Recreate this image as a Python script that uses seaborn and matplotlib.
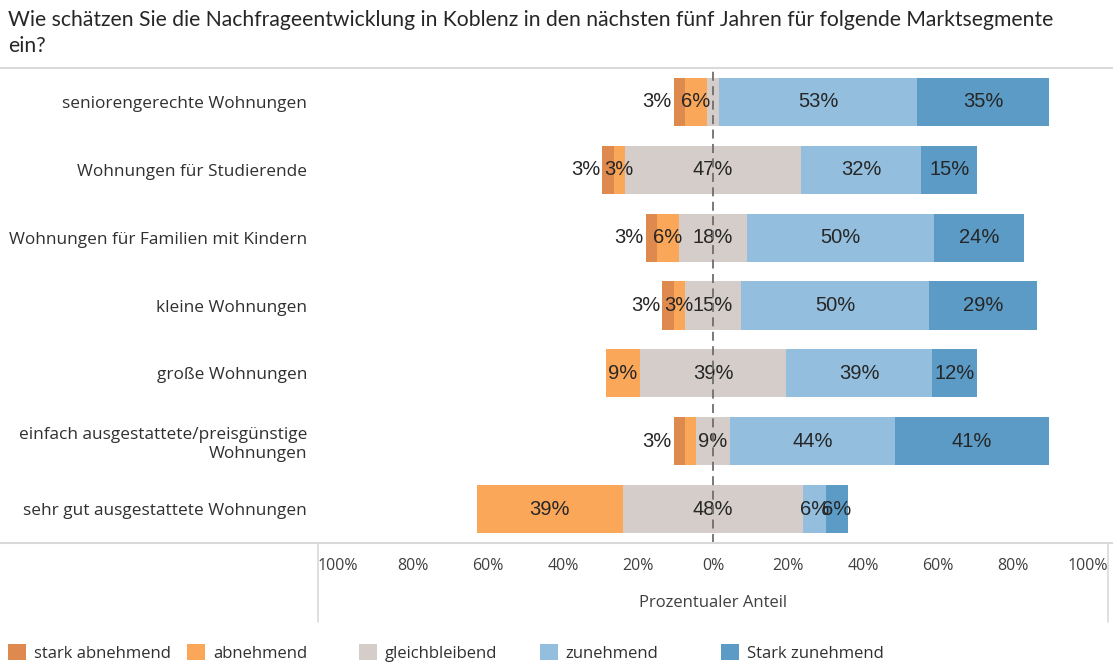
import seaborn as sns
import pandas as pd
import numpy as np
import matplotlib.pyplot as plt
from matplotlib.lines import Line2D
from matplotlib.patches import Patch

sns.set_theme(style="white")
plt.rcParams["font.family"] = ["Open Sans", "DejaVu Sans"]

categories = [
    "seniorengerechte Wohnungen",
    "Wohnungen für Studierende",
    "Wohnungen für Familien mit Kindern",
    "kleine Wohnungen",
    "große Wohnungen",
    "einfach ausgestattete/preisgünstige\nWohnungen",
    "sehr gut ausgestattete Wohnungen",
]
stark_abnehmend = [3, 3, 3, 3, 0, 3, 0]
abnehmend = [6, 3, 6, 3, 9, 3, 39]
gleichbleibend = [3, 47, 18, 15, 39, 9, 48]
zunehmend = [53, 32, 50, 50, 39, 44, 6]
stark_zunehmend = [35, 15, 24, 29, 12, 41, 6]

series_names = ["stark abnehmend", "abnehmend", "gleichbleibend", "zunehmend", "Stark zunehmend"]
colors = ["#DE8A4E", "#FBA75A", "#D4CDCA", "#93BEDD", "#5B9BC6"]
# which segment labels are shown in the original
show_label = [
    [1, 1, 0, 1, 1],
    [1, 1, 1, 1, 1],
    [1, 1, 1, 1, 1],
    [1, 1, 1, 1, 1],
    [0, 1, 1, 1, 1],
    [1, 0, 1, 1, 1],
    [0, 1, 1, 1, 1],
]

values = np.array([stark_abnehmend, abnehmend, gleichbleibend, zunehmend, stark_zunehmend], dtype=float).T
# diverging: negative side = stark abn + abn + half of gleichbleibend
starts = -(values[:, 0] + values[:, 1] + values[:, 2] / 2)
cum = np.cumsum(values, axis=1)
lefts = starts[:, None] + np.column_stack([np.zeros(len(starts)), cum[:, :-1]])

W, H = 1113, 666
fig = plt.figure(figsize=(W / 100, H / 100), dpi=100)
px = 3.75  # pixels per percent
x0_pix, x1_pix, zero_pix = 318, 1108, 713
ax = fig.add_axes([x0_pix / W, 1 - 543 / H, (x1_pix - x0_pix) / W, (543 - 68) / H])

for j, name in enumerate(series_names):
    df = pd.DataFrame({"cat": categories, "val": values[:, j]})
    sns.barplot(data=df, x="val", y="cat", orient="y", color=colors[j],
                left=lefts[:, j], width=0.71, ax=ax, linewidth=0, saturation=1)

for i in range(len(categories)):
    for j in range(5):
        v = values[i, j]
        if v == 0 or not show_label[i][j]:
            continue
        if j == 0:
            ax.text(lefts[i, j] - 0.6, i, f"{int(v)}%", ha="right", va="center",
                    fontsize=14.5, color="#262626", family="Liberation Sans")
        else:
            ax.text(lefts[i, j] + v / 2, i, f"{int(v)}%", ha="center", va="center",
                    fontsize=14.5, color="#262626", family="Liberation Sans")

ax.axvline(0, color="#6E6E6E", linestyle=(0, (5, 3)), linewidth=1.3, zorder=5)

ax.set_xlim(-(zero_pix - x0_pix) / px, (x1_pix - zero_pix) / px)
ax.set_ylim(len(categories) - 0.5, -0.5)
ticks = np.arange(-100, 101, 20)
ax.set_xticks(ticks)
ax.set_xticklabels([f"{abs(t)}%" for t in ticks], fontsize=11.5, color="#404040")
ax.tick_params(axis="x", length=0, pad=11)
ax.tick_params(axis="y", length=0, pad=8, labelsize=12.4, labelcolor="#303030")
for lab in ax.get_yticklabels():
    lab.set_ha("right")
    lab.set_multialignment("right")
ax.set_xlabel("Prozentualer Anteil", fontsize=12, color="#404040", labelpad=15)
ax.set_ylabel("")
for s in ax.spines.values():
    s.set_visible(False)

# frame lines
line_col = "#D9D9D9"
fig.add_artist(Line2D([0, 1], [1 - 68 / H, 1 - 68 / H], color=line_col, lw=1.5))
fig.add_artist(Line2D([0, 1], [1 - 543 / H, 1 - 543 / H], color=line_col, lw=1.5))
fig.add_artist(Line2D([x0_pix / W, x0_pix / W], [1 - 543 / H, 1 - 622 / H], color=line_col, lw=1.2))
fig.add_artist(Line2D([x1_pix / W, x1_pix / W], [1 - 543 / H, 1 - 622 / H], color=line_col, lw=1.2))

fig.text(8 / W, 1 - 33 / H, "Wie schätzen Sie die Nachfrageentwicklung in Koblenz in den nächsten fünf Jahren für folgende Marktsegmente\nein?",
         ha="left", va="center", fontsize=15.2, color="#262626", linespacing=1.35,
         family=["Lato", "DejaVu Sans"])

legend_x = [8, 187, 359, 540, 721]
for name, col, lx in zip(series_names, colors, legend_x):
    fig.legend(handles=[Patch(facecolor=col, edgecolor="none", label=name)],
               loc="center left", bbox_to_anchor=(lx / W, 1 - 653 / H), frameon=False,
               borderpad=0, borderaxespad=0, handlelength=1.1, handleheight=1.1,
               handletextpad=0.45, fontsize=12, labelcolor="#303030")

fig.savefig("out.png", dpi=100)
